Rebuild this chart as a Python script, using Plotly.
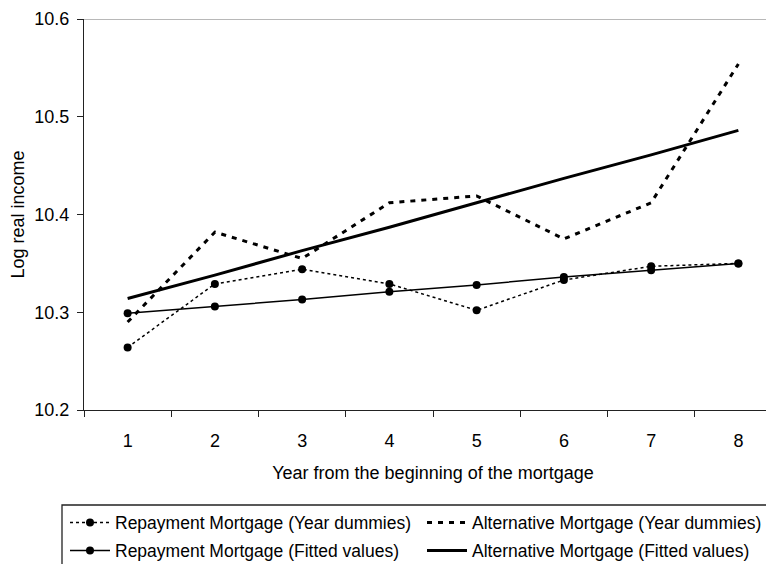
import plotly.graph_objects as go

years = ["1", "2", "3", "4", "5", "6", "7", "8"]
repay_dummies = [10.264, 10.329, 10.344, 10.329, 10.302, 10.333, 10.347, 10.350]
alt_dummies = [10.290, 10.382, 10.355, 10.412, 10.419, 10.375, 10.412, 10.554]
repay_fitted = [10.299, 10.306, 10.313, 10.321, 10.328, 10.336, 10.343, 10.350]
alt_fitted = [10.314, 10.338, 10.363, 10.387, 10.412, 10.437, 10.461, 10.486]

y_ticks = [10.2, 10.3, 10.4, 10.5, 10.6]

FONT = "Liberation Sans, Arial, sans-serif"
BLACK = "#000000"
FS = 18
LFS = 17.5

fig = go.Figure()
fig.add_trace(go.Scatter(
    x=years, y=repay_dummies, name="Repayment Mortgage (Year dummies)",
    mode="lines+markers", line=dict(color=BLACK, width=1.5, dash="dot"),
    marker=dict(color=BLACK, size=8, symbol="circle"), legend="legend"))
fig.add_trace(go.Scatter(
    x=years, y=alt_dummies, name="Alternative Mortgage (Year dummies)",
    mode="lines", line=dict(color=BLACK, width=3, dash="5px,6px"), legend="legend"))
fig.add_trace(go.Scatter(
    x=years, y=repay_fitted, name="Repayment Mortgage (Fitted values)",
    mode="lines+markers", line=dict(color=BLACK, width=1.5),
    marker=dict(color=BLACK, size=8, symbol="circle"), legend="legend2"))
fig.add_trace(go.Scatter(
    x=years, y=alt_fitted, name="Alternative Mortgage (Fitted values)",
    mode="lines", line=dict(color=BLACK, width=3), legend="legend2"))

# the page body adds an 8px offset; layout values below are in page pixels
OFF = 8
W, H = 774, 564
PLOT_L, PLOT_T, PLOT_B = 84, 19, 410
L = PLOT_L - OFF
T = PLOT_T - OFF
B = H - (PLOT_B - OFF)
plot_h = (PLOT_B - OFF) - T
plot_w = W - L

def px_x(px):
    return (px - PLOT_L) / plot_w

def px_y(py):
    return (PLOT_B - py) / plot_h

legend_common = dict(
    orientation="h", xanchor="left", yanchor="top",
    font=dict(family=FONT, size=LFS, color=BLACK),
    bgcolor="rgba(0,0,0,0)", borderwidth=0,
    entrywidth=302, entrywidthmode="pixels", itemwidth=40,
    x=px_x(65),
)

fig.update_layout(
    width=W, height=H,
    margin=dict(l=L, r=0, t=T, b=B, autoexpand=False),
    paper_bgcolor="white", plot_bgcolor="white",
    font=dict(family=FONT, size=FS, color=BLACK),
    showlegend=True,
    legend=dict(**legend_common, y=px_y(504.5)),
    legend2=dict(**legend_common, y=px_y(532.5)),
    xaxis=dict(
        type="category", range=[-0.5, 7.5], tickson="boundaries",
        ticks="outside", ticklen=6, tickwidth=1.3, tickcolor="#222",
        showline=True, linecolor="#222", linewidth=1.3,
        showgrid=False, zeroline=False, automargin=False,
        tickfont=dict(family=FONT, size=FS, color=BLACK),
        ticklabelstandoff=14,
        title=dict(text="Year from the beginning of the mortgage",
                   font=dict(family=FONT, size=FS, color=BLACK), standoff=16),
    ),
    yaxis=dict(
        range=[10.2, 10.6], tickvals=y_ticks, tickformat=".1f",
        ticks="outside", ticklen=6, tickwidth=1.3, tickcolor="#222",
        showline=True, linecolor="#222", linewidth=1.3,
        showgrid=False, zeroline=False, automargin=False,
        tickfont=dict(family=FONT, size=FS, color=BLACK),
        ticklabelstandoff=4,
        title=dict(text="Log real income",
                   font=dict(family=FONT, size=FS, color=BLACK), standoff=6),
    ),
    shapes=[
        dict(type="line", xref="paper", yref="y", x0=0, x1=1,
             y0=y_ticks[-1], y1=y_ticks[-1], line=dict(color="#a0a0a0", width=1.5),
             layer="below"),
        dict(type="rect", xref="paper", yref="paper",
             x0=px_x(62), x1=px_x(820),
             y0=px_y(505), y1=px_y(620),
             line=dict(color="#222", width=1.3), fillcolor="rgba(0,0,0,0)"),
    ],
)

fig.write_html("out.html")
